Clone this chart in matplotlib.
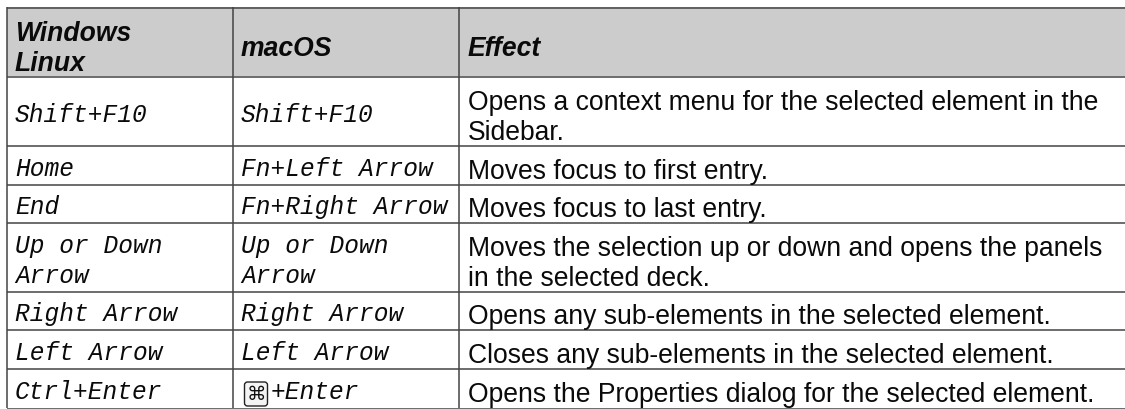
"""Keyboard shortcut table for the Sidebar, drawn with plain matplotlib text and lines."""
import matplotlib
matplotlib.use("Agg")
import matplotlib.pyplot as plt
from matplotlib.patches import FancyBboxPatch, Rectangle

headers = [["Windows", "Linux"], ["macOS"], ["Effect"]]
windows_keys = [["Shift+F10"], ["Home"], ["End"], ["Up or Down", "Arrow"],
                ["Right Arrow"], ["Left Arrow"], ["Ctrl+Enter"]]
mac_keys = [["Shift+F10"], ["Fn+Left Arrow"], ["Fn+Right Arrow"], ["Up or Down", "Arrow"],
            ["Right Arrow"], ["Left Arrow"], ["+Enter"]]
effects = [
    ["Opens a context menu for the selected element in the", "Sidebar."],
    ["Moves focus to first entry."],
    ["Moves focus to last entry."],
    ["Moves the selection up or down and opens the panels", "in the selected deck."],
    ["Opens any sub-elements in the selected element."],
    ["Closes any sub-elements in the selected element."],
    ["Opens the Properties dialog for the selected element."],
]

# layout, in pixels of the 1125x410 picture
W, H = 1125, 410
row_lines = [8, 77, 146, 185, 223, 292, 330, 369, 409]
col_lines = [6.5, 232.5, 458.5]
text_x = [15, 241, 468]
LINE = "#444444"

fig = plt.figure(figsize=(W / 100, H / 100), dpi=100)
ax = fig.add_axes([0, 0, 1, 1])
ax.set_xlim(0, W)
ax.set_ylim(H, 0)
ax.axis("off")

ax.add_patch(Rectangle((col_lines[0], row_lines[0]), W - col_lines[0], row_lines[1] - row_lines[0],
                       facecolor="#cccccc", edgecolor="none"))
for y in row_lines:
    ax.plot([col_lines[0], W], [y + 0.5, y + 0.5], color=LINE, lw=1.1, solid_capstyle="butt")
for x in col_lines:
    ax.plot([x, x], [row_lines[0], row_lines[-1]], color=LINE, lw=1.1, solid_capstyle="butt")


def cell(x, top, bottom, lines, step, shift, **kw):
    # centre the block of lines vertically in the cell
    y = (top + bottom) / 2 + shift - (len(lines) - 1) * step / 2
    for line in lines:
        ax.text(x, y, line, va="baseline", ha="left", color="#0a0a0a", **kw)
        y += step


head_style = dict(family="Liberation Sans", style="italic", weight="bold", fontsize=19.1)
mono_style = dict(family="Liberation Mono", style="italic", fontsize=17.65)
body_style = dict(family="Liberation Sans", fontsize=19.1)

for x, lines in zip(text_x, headers):
    cell(x, row_lines[0], row_lines[1], lines, 30, 13.5, **head_style)

for i in range(len(effects)):
    top, bottom = row_lines[i + 1], row_lines[i + 2]
    cell(text_x[0], top, bottom, windows_keys[i], 31, 10.5, **mono_style)
    mac_x = text_x[1]
    if mac_keys[i][0].startswith("+"):
        # the command key is a small keycap image in the source document
        ax.add_patch(FancyBboxPatch((244.5, 383), 23, 24, boxstyle="round,pad=0,rounding_size=3",
                                    facecolor="#f4f4f4", edgecolor="#222222", lw=1))
        ax.text(256, 395, "\u2318", family="DejaVu Sans", fontsize=14, ha="center", va="center",
                color="#111111")
        mac_x = 271
    cell(mac_x, top, bottom, mac_keys[i], 31, 10.5, **mono_style)
    cell(text_x[2], top, bottom, effects[i], 31, 13.5, **body_style)

fig.savefig("out.png", dpi=100)
